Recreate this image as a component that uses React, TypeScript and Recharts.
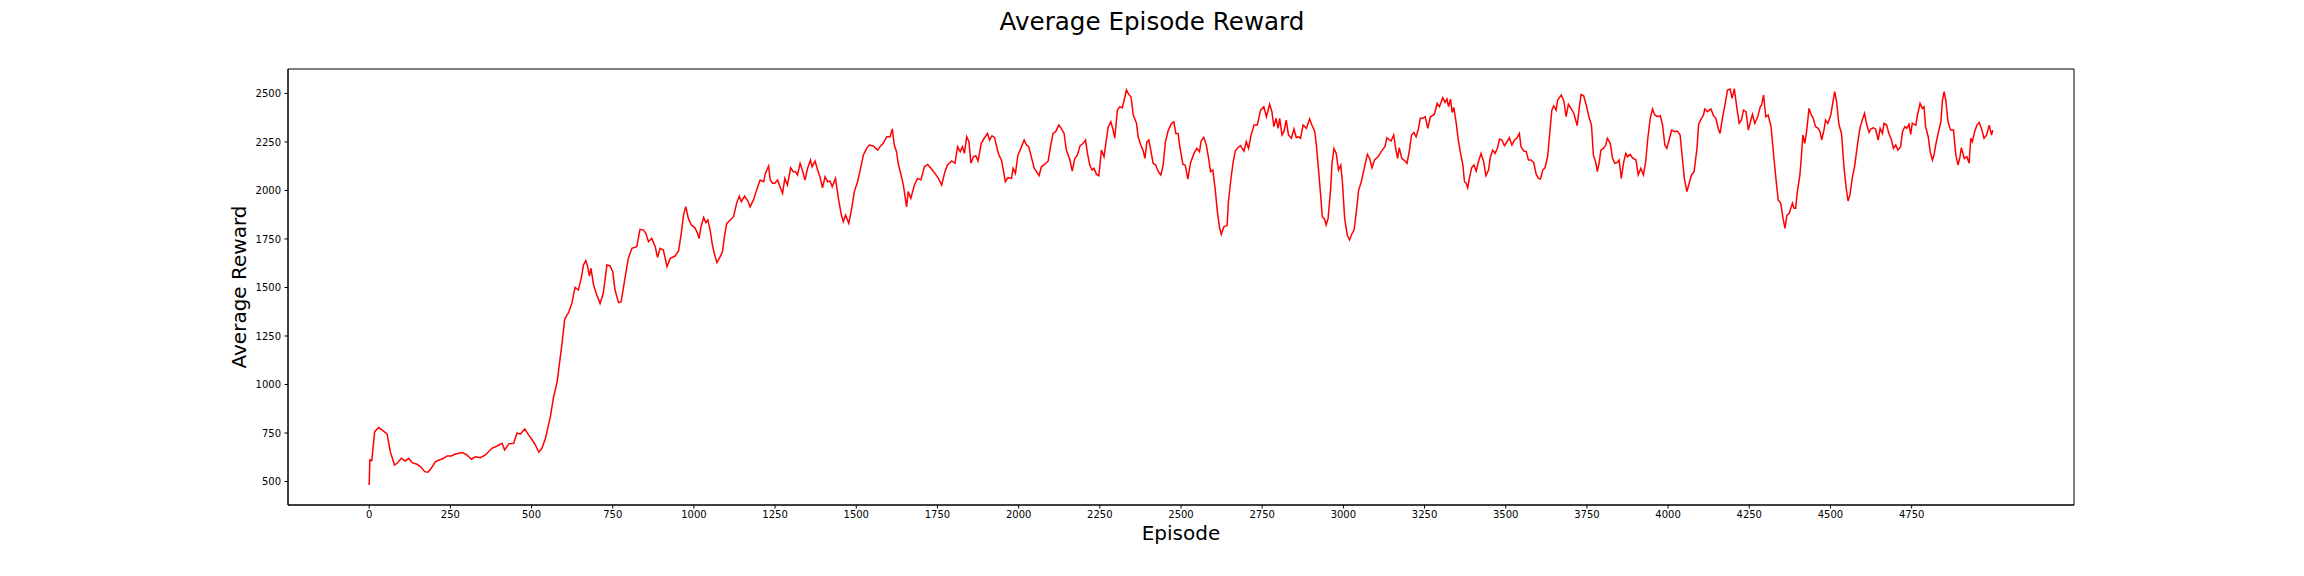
import React from "react";
import { LineChart, Line, XAxis, YAxis, ReferenceArea, Label } from "recharts";

// episode numbers (x) and smoothed reward (y)
const episodes = [
  0, 2, 8, 17, 29, 39, 55, 65, 78, 86, 99, 111, 122, 132, 147, 158, 171, 181, 191, 204,
  216, 229, 240, 253, 265, 286, 301, 315, 327, 342, 358, 378, 394, 409, 417, 430, 445, 455, 466, 479,
  491, 502, 512, 522, 532, 543, 551, 558, 568, 579, 586, 594, 602, 609,
  614, 624, 634, 644, 653, 660, 667, 673, 678, 683, 691, 701, 711, 721, 732, 742, 750, 757, 768, 776,
  786, 798, 809, 824, 834, 845, 852, 860, 870, 881, 888, 896, 906, 917, 927, 942, 953, 961, 968, 975,
  983, 992, 1002, 1009, 1016, 1022, 1030, 1037, 1043, 1050, 1057, 1064, 1071, 1081, 1088, 1094, 1101, 1112, 1122, 1132,
  1140, 1146, 1156, 1166, 1173, 1184, 1194, 1204, 1215, 1220, 1230, 1235, 1242,
  1249, 1258, 1265, 1273, 1280, 1288, 1298, 1306, 1313, 1319, 1327, 1334, 1342, 1350, 1359, 1364, 1373, 1381, 1388, 1396,
  1404, 1412, 1419, 1426, 1436, 1445, 1453, 1460, 1467, 1477, 1486, 1494, 1504, 1511, 1522, 1532, 1540, 1552, 1566, 1573,
  1583, 1594, 1604, 1611, 1617, 1624, 1629, 1638, 1645, 1655, 1660, 1668, 1679, 1689, 1699, 1710, 1720, 1730, 1740, 1753,
  1763, 1773, 1781, 1794, 1804, 1812, 1820, 1827, 1833, 1840, 1847, 1853, 1861, 1868,
  1875, 1885, 1894, 1904, 1911, 1918, 1926, 1931, 1939, 1947, 1953, 1959, 1967, 1978, 1983, 1990, 1998, 2009, 2017, 2024,
  2031, 2039, 2048, 2055, 2063, 2070, 2080, 2091, 2099, 2106, 2114, 2124, 2132, 2140, 2147, 2158, 2165, 2173, 2181, 2189,
  2199, 2206, 2212, 2219, 2226, 2232, 2240, 2247, 2255, 2263, 2270, 2276, 2284, 2291, 2296, 2304, 2312, 2319, 2325, 2332,
  2339, 2346, 2353, 2363, 2368, 2376, 2383, 2389, 2395, 2401, 2407, 2414, 2422, 2430, 2438, 2445, 2452, 2461, 2471, 2478,
  2484, 2491, 2496,
  2506, 2513, 2521, 2529, 2540, 2549, 2557, 2562, 2570, 2578, 2585, 2591, 2598, 2605, 2612, 2619, 2624, 2632, 2642, 2646,
  2653, 2660, 2667, 2675, 2683, 2694, 2701, 2708, 2716, 2725, 2735, 2745, 2755, 2763, 2773, 2780, 2786, 2793, 2799, 2804,
  2811, 2817, 2824, 2831, 2840, 2848, 2855, 2862, 2868, 2876, 2886, 2896, 2903, 2912, 2917, 2924, 2930, 2935, 2942, 2947,
  2953, 2961, 2965, 2971, 2978, 2985, 2992, 2997, 3004, 3012, 3019, 3027, 3033, 3040, 3047, 3055, 3063, 3074, 3081, 3088,
  3096, 3107, 3115, 3122,
  3128, 3134, 3142, 3147, 3155, 3162, 3167, 3172, 3180, 3190, 3196, 3203, 3210, 3217, 3224, 3231, 3237, 3244, 3252, 3260,
  3268, 3280, 3289, 3296, 3306, 3313, 3319, 3324, 3330, 3335, 3340, 3347, 3354, 3360, 3368, 3373, 3378, 3383, 3388, 3395,
  3402, 3409, 3416, 3424, 3432, 3439, 3447, 3453, 3460, 3467, 3475, 3481, 3488, 3496, 3504, 3511, 3519, 3527, 3535, 3542,
  3547, 3556, 3563, 3570, 3578, 3586, 3594, 3601, 3607, 3614, 3621, 3629, 3635, 3642, 3648, 3655, 3660, 3671, 3679, 3686,
  3693, 3701, 3710, 3720, 3727, 3732, 3740, 3748,
  3757, 3764, 3770, 3777, 3782, 3788, 3793, 3801, 3808, 3813, 3822, 3829, 3836, 3844, 3849, 3856, 3863, 3870, 3875, 3883,
  3890, 3901, 3908, 3916, 3924, 3931, 3937, 3945, 3952, 3959, 3967, 3976, 3983, 3990, 3996, 4003, 4011, 4021, 4029, 4037,
  4044, 4050, 4058, 4065, 4072, 4080, 4089, 4094, 4103, 4109, 4113, 4121, 4132, 4140, 4147, 4155, 4160, 4168, 4175, 4183,
  4191, 4197, 4204, 4212, 4219, 4226, 4232, 4240, 4247, 4255, 4260, 4267, 4276, 4284, 4288, 4294, 4301, 4308, 4317, 4325,
  4332, 4339, 4347, 4354, 4360, 4366, 4373,
  4383, 4388, 4393, 4398, 4406, 4410, 4415, 4421, 4427, 4434, 4441, 4447, 4454, 4462, 4468, 4473, 4480, 4485, 4492, 4501,
  4506, 4513, 4519, 4526, 4534, 4542, 4548, 4554, 4560, 4567, 4575, 4583, 4591, 4598, 4605, 4612, 4619, 4624, 4632, 4639,
  4647, 4653, 4660, 4665, 4673, 4680, 4688, 4694, 4701, 4708, 4716, 4722, 4729, 4735, 4742, 4747, 4752, 4763, 4768, 4776,
  4783, 4788, 4793, 4801, 4807, 4814, 4819, 4824, 4831, 4840, 4845, 4850, 4855, 4862, 4870, 4879, 4886, 4893, 4899, 4903,
  4912, 4920, 4927, 4932, 4937, 4944, 4951, 4958, 4965, 4973, 4981, 4989, 4996, 5000,
];

const rewards = [
  482, 611, 608, 757, 778, 766, 745, 654, 585, 594, 620, 606, 620, 597, 589, 577, 551, 548, 568, 603,
  611, 620, 632, 632, 642, 649, 637, 615, 628, 623, 637, 671, 683, 697, 663, 694, 697, 749, 745, 771,
  740, 714, 688, 651, 671, 723, 783, 834, 937, 1015, 1109, 1212, 1336, 1358,
  1370, 1418, 1501, 1487, 1547, 1616, 1638, 1607, 1559, 1599, 1513, 1461, 1418, 1470, 1616, 1611, 1581, 1487, 1422, 1427,
  1530, 1650, 1702, 1710, 1800, 1796, 1779, 1736, 1753, 1710, 1655, 1702, 1693, 1607, 1650, 1662, 1690, 1779, 1874, 1916,
  1856, 1822, 1810, 1788, 1753, 1813, 1861, 1834, 1848, 1796, 1719, 1667, 1628, 1659, 1685, 1762, 1830, 1848, 1865, 1937,
  1971, 1942, 1971, 1947, 1916, 1954, 2006, 2054, 2045, 2088, 2126, 2054, 2037,
  2037, 2054, 2019, 1985, 2062, 2028, 2117, 2097, 2097, 2080, 2140, 2105, 2054, 2114, 2157, 2122, 2152, 2105, 2071, 2014,
  2071, 2045, 2049, 2019, 2062, 1959, 1882, 1839, 1873, 1831, 1908, 1994, 2045, 2097, 2183, 2217, 2234, 2229, 2208, 2226,
  2243, 2277, 2277, 2317, 2234, 2200, 2140, 2080, 2028, 1916, 1994, 1959, 2028, 2062, 2054, 2122, 2134, 2114, 2093, 2062,
  2028, 2097, 2131, 2152, 2140, 2226, 2200, 2226, 2191, 2277, 2251, 2140, 2174, 2179,
  2152, 2243, 2269, 2294, 2260, 2282, 2272, 2234, 2183, 2157, 2105, 2045, 2066, 2062, 2114, 2088, 2183, 2226, 2260, 2234,
  2226, 2174, 2114, 2097, 2076, 2122, 2134, 2152, 2234, 2294, 2303, 2337, 2317, 2294, 2208, 2157, 2100, 2165, 2183, 2230,
  2243, 2260, 2191, 2131, 2105, 2114, 2083, 2076, 2208, 2174, 2260, 2329, 2354, 2311, 2269, 2414, 2432, 2426, 2466, 2518,
  2495, 2483, 2389, 2346, 2277, 2234, 2208, 2165, 2251, 2260, 2208, 2140, 2131, 2097, 2080, 2131, 2251, 2311, 2346, 2354,
  2294, 2294, 2230,
  2134, 2131, 2059, 2140, 2191, 2217, 2200, 2255, 2274, 2234, 2165, 2097, 2105, 2011, 1891, 1805, 1774, 1813, 1819, 1942,
  2049, 2140, 2203, 2220, 2231, 2203, 2251, 2217, 2286, 2337, 2337, 2414, 2432, 2380, 2444, 2406, 2329, 2372, 2320, 2372,
  2286, 2303, 2363, 2286, 2269, 2317, 2272, 2277, 2269, 2337, 2320, 2368, 2337, 2303, 2234, 2097, 1977, 1865, 1853, 1822,
  1856, 2011, 2140, 2217, 2191, 2105, 2131, 2045, 1856, 1770, 1745, 1779, 1796, 1891, 2002, 2042, 2105, 2186, 2165, 2117,
  2157, 2174, 2196, 2213,
  2226, 2272, 2260, 2255, 2286, 2208, 2165, 2220, 2165, 2152, 2140, 2203, 2286, 2299, 2277, 2317, 2372, 2372, 2380, 2320,
  2380, 2392, 2449, 2432, 2478, 2454, 2471, 2432, 2471, 2402, 2428, 2354, 2260, 2200, 2131, 2045, 2037, 2014, 2062, 2117,
  2131, 2100, 2148, 2191, 2148, 2076, 2105, 2174, 2208, 2191, 2220, 2265, 2260, 2231, 2251, 2272, 2234, 2260, 2272, 2294,
  2226, 2203, 2200, 2157, 2157, 2145, 2083, 2062, 2059, 2105, 2117, 2174, 2286, 2414, 2437, 2414, 2466, 2492, 2461, 2380,
  2444, 2423, 2397, 2334, 2432, 2495, 2488, 2440,
  2375, 2337, 2183, 2145, 2097, 2145, 2208, 2217, 2234, 2269, 2243, 2165, 2140, 2145, 2157, 2062, 2145, 2191, 2174, 2186,
  2169, 2157, 2080, 2114, 2080, 2148, 2260, 2372, 2420, 2389, 2380, 2385, 2337, 2234, 2217, 2260, 2311, 2303, 2306, 2286,
  2165, 2062, 1994, 2037, 2080, 2097, 2217, 2341, 2372, 2389, 2420, 2406, 2420, 2385, 2372, 2317, 2294, 2380, 2440, 2518,
  2523, 2475, 2524, 2423, 2346, 2363, 2414, 2406, 2311, 2363, 2392, 2346, 2380, 2432, 2440, 2492, 2380, 2389, 2329, 2183,
  2062, 1951, 1934, 1856, 1805, 1873, 1882,
  1934, 1908, 1908, 1994, 2080, 2165, 2286, 2243, 2311, 2423, 2389, 2372, 2329, 2320, 2303, 2260, 2311, 2363, 2346, 2389,
  2440, 2509, 2457, 2341, 2294, 2114, 2019, 1946, 1977, 2062, 2131, 2234, 2323, 2363, 2397, 2337, 2299, 2317, 2323, 2317,
  2260, 2320, 2294, 2346, 2337, 2294, 2260, 2217, 2234, 2208, 2226, 2303, 2329, 2320, 2341, 2289, 2346, 2337, 2389, 2449,
  2423, 2432, 2329, 2277, 2200, 2157, 2183, 2234, 2289, 2354, 2466, 2509, 2466, 2354, 2311, 2311, 2183, 2131, 2174, 2220,
  2165, 2174, 2140, 2269, 2251, 2303, 2337, 2351, 2320, 2269, 2286, 2337, 2286, 2311,
];

const xTicks = [
  0, 250, 500, 750, 1000, 1250, 1500, 1750, 2000, 2250,
  2500, 2750, 3000, 3250, 3500, 3750, 4000, 4250, 4500, 4750,
];
const yTicks = [500, 750, 1000, 1250, 1500, 1750, 2000, 2250, 2500];

const X_DOMAIN: [number, number] = [-250, 5250];
const Y_DOMAIN: [number, number] = [379, 2626];

const data = episodes.map((episode, i) => ({ episode, reward: rewards[i] }));

const FONT = "DejaVu Sans";
const tickStyle = { fontSize: 10, fill: "#000", fontFamily: FONT };

const XTitle = () => (
  <text x={1181} y={540} textAnchor="middle" fontSize={20} fontFamily={FONT} fill="#000">
    Episode
  </text>
);

const YTitle = () => (
  <text
    x={246}
    y={287}
    transform="rotate(-90 246 287)"
    textAnchor="middle"
    fontSize={20}
    fontFamily={FONT}
    fill="#000"
  >
    Average Reward
  </text>
);

export default function App() {
  return (
    <div style={{ position: "absolute", left: 0, top: 0, width: 2304, height: 576, background: "#fff" }}>
      <svg
        width={2304}
        height={40}
        style={{ position: "absolute", left: 0, top: 0, pointerEvents: "none" }}
      >
        <text x={1152} y={30} textAnchor="middle" fontSize={24.6} fontFamily={FONT} fill="#000">
          Average Episode Reward
        </text>
      </svg>
      <LineChart
        width={2304}
        height={576}
        data={data}
        margin={{ top: 69, right: 230, bottom: 0, left: 0 }}
      >
        <XAxis
          dataKey="episode"
          type="number"
          domain={X_DOMAIN}
          ticks={xTicks}
          interval={0}
          allowDataOverflow
          height={71}
          tick={tickStyle}
          tickSize={3.5}
          tickMargin={2.5}
          axisLine={{ stroke: "#000" }}
          tickLine={{ stroke: "#000" }}
        >
          <Label content={XTitle} />
        </XAxis>
        <YAxis
          type="number"
          domain={Y_DOMAIN}
          ticks={yTicks}
          interval={0}
          allowDataOverflow
          width={288}
          tick={tickStyle}
          tickSize={3.5}
          tickMargin={3.5}
          axisLine={{ stroke: "#000" }}
          tickLine={{ stroke: "#000" }}
        >
          <Label content={YTitle} />
        </YAxis>
        <ReferenceArea
          x1={X_DOMAIN[0]}
          x2={X_DOMAIN[1]}
          y1={Y_DOMAIN[0]}
          y2={Y_DOMAIN[1]}
          fill="none"
          stroke="#000"
          strokeWidth={1}
        />
        <Line
          type="linear"
          dataKey="reward"
          stroke="#ff0000"
          strokeWidth={1.5}
          dot={false}
          isAnimationActive={false}
        />
      </LineChart>
    </div>
  );
}
